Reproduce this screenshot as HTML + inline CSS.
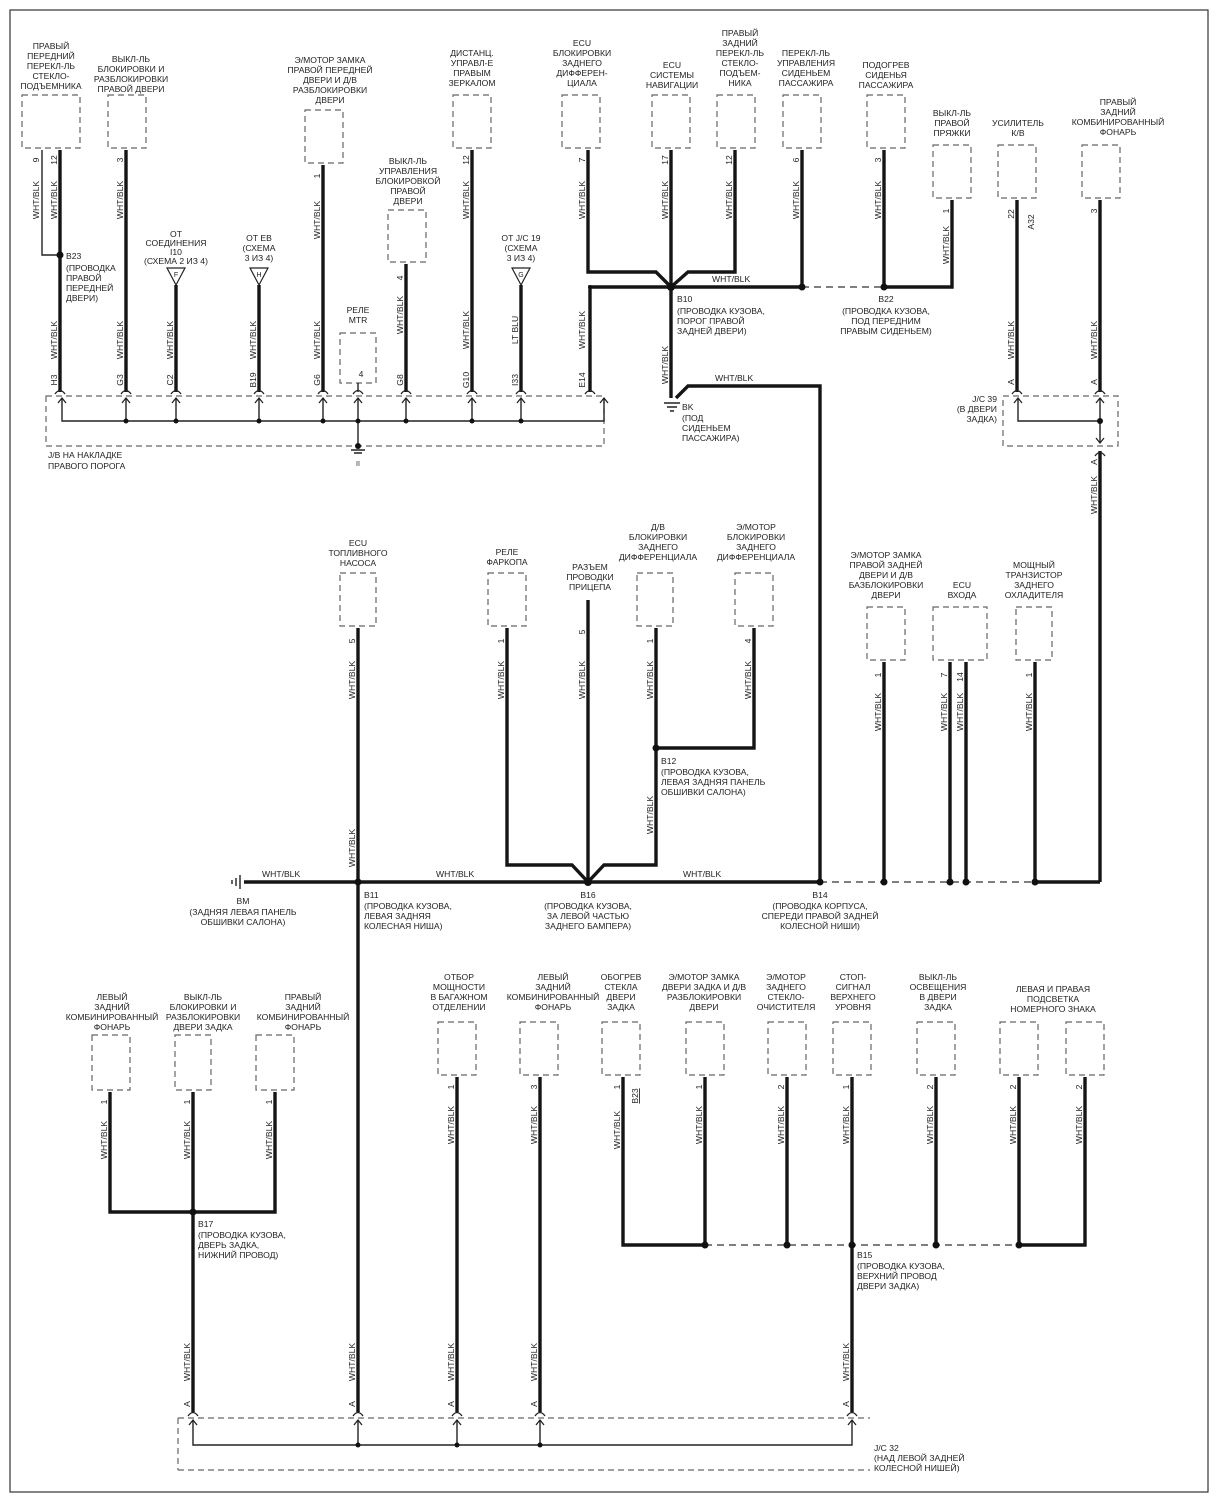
<!DOCTYPE html>
<html><head><meta charset="utf-8">
<style>
html,body{margin:0;padding:0;background:#fff;}
svg{display:block;}
text{font-family:"Liberation Sans",sans-serif;font-size:8.6px;fill:#222;}
.w{stroke:#151515;stroke-width:3.4;fill:none;}
.t{stroke:#222;stroke-width:1.4;fill:none;}
.d{stroke:#666;stroke-width:1.2;fill:none;stroke-dasharray:6,4;}
.dl{stroke:#555;stroke-width:1.4;fill:none;stroke-dasharray:7,5;}
.c{text-anchor:middle;}
.e{text-anchor:end;}
</style></head><body>
<svg width="1218" height="1500" viewBox="0 0 1218 1500" xmlns="http://www.w3.org/2000/svg">
<defs>
<g id="plug"><path d="M-5,6 Q0,-1 5,6" stroke="#222" stroke-width="1.3" fill="none"/></g>
<g id="arr"><path d="M-4,5 L0,0 L4,5" stroke="#222" stroke-width="1.3" fill="none"/></g>
</defs>
<rect x="10" y="10" width="1198" height="1482" fill="none" stroke="#333" stroke-width="1.2"/>

<!-- ===== TOP: component boxes ===== -->
<rect class="d" x="22" y="95" width="58" height="53"/>
<rect class="d" x="108" y="95" width="38" height="53"/>
<rect class="d" x="305" y="110" width="38" height="53"/>
<rect class="d" x="340" y="333" width="36" height="50"/>
<rect class="d" x="388" y="210" width="38" height="52"/>
<rect class="d" x="453" y="95" width="38" height="53"/>
<rect class="d" x="562" y="95" width="38" height="53"/>
<rect class="d" x="652" y="95" width="38" height="53"/>
<rect class="d" x="717" y="95" width="38" height="53"/>
<rect class="d" x="783" y="95" width="38" height="53"/>
<rect class="d" x="867" y="95" width="38" height="53"/>
<rect class="d" x="933" y="145" width="38" height="53"/>
<rect class="d" x="998" y="145" width="38" height="53"/>
<rect class="d" x="1082" y="145" width="38" height="53"/>

<!-- top labels -->
<text class="c" x="51" y="49">ПРАВЫЙ<tspan x="51" dy="10">ПЕРЕДНИЙ</tspan><tspan x="51" dy="10">ПЕРЕКЛ-ЛЬ</tspan><tspan x="51" dy="10">СТЕКЛО-</tspan><tspan x="51" dy="10">ПОДЪЕМНИКА</tspan></text>
<text class="c" x="131" y="62">ВЫКЛ-ЛЬ<tspan x="131" dy="10">БЛОКИРОВКИ И</tspan><tspan x="131" dy="10">РАЗБЛОКИРОВКИ</tspan><tspan x="131" dy="10">ПРАВОЙ ДВЕРИ</tspan></text>
<text class="c" x="330" y="63">Э/МОТОР ЗАМКА<tspan x="330" dy="10">ПРАВОЙ ПЕРЕДНЕЙ</tspan><tspan x="330" dy="10">ДВЕРИ И Д/В</tspan><tspan x="330" dy="10">РАЗБЛОКИРОВКИ</tspan><tspan x="330" dy="10">ДВЕРИ</tspan></text>
<text class="c" x="408" y="164">ВЫКЛ-ЛЬ<tspan x="408" dy="10">УПРАВЛЕНИЯ</tspan><tspan x="408" dy="10">БЛОКИРОВКОЙ</tspan><tspan x="408" dy="10">ПРАВОЙ</tspan><tspan x="408" dy="10">ДВЕРИ</tspan></text>
<text class="c" x="472" y="56">ДИСТАНЦ.<tspan x="472" dy="10">УПРАВЛ-Е</tspan><tspan x="472" dy="10">ПРАВЫМ</tspan><tspan x="472" dy="10">ЗЕРКАЛОМ</tspan></text>
<text class="c" x="582" y="46">ECU<tspan x="582" dy="10">БЛОКИРОВКИ</tspan><tspan x="582" dy="10">ЗАДНЕГО</tspan><tspan x="582" dy="10">ДИФФЕРЕН-</tspan><tspan x="582" dy="10">ЦИАЛА</tspan></text>
<text class="c" x="672" y="68">ECU<tspan x="672" dy="10">СИСТЕМЫ</tspan><tspan x="672" dy="10">НАВИГАЦИИ</tspan></text>
<text class="c" x="740" y="36">ПРАВЫЙ<tspan x="740" dy="10">ЗАДНИЙ</tspan><tspan x="740" dy="10">ПЕРЕКЛ-ЛЬ</tspan><tspan x="740" dy="10">СТЕКЛО-</tspan><tspan x="740" dy="10">ПОДЪЕМ-</tspan><tspan x="740" dy="10">НИКА</tspan></text>
<text class="c" x="806" y="56">ПЕРЕКЛ-ЛЬ<tspan x="806" dy="10">УПРАВЛЕНИЯ</tspan><tspan x="806" dy="10">СИДЕНЬЕМ</tspan><tspan x="806" dy="10">ПАССАЖИРА</tspan></text>
<text class="c" x="886" y="68">ПОДОГРЕВ<tspan x="886" dy="10">СИДЕНЬЯ</tspan><tspan x="886" dy="10">ПАССАЖИРА</tspan></text>
<text class="c" x="952" y="116">ВЫКЛ-ЛЬ<tspan x="952" dy="10">ПРАВОЙ</tspan><tspan x="952" dy="10">ПРЯЖКИ</tspan></text>
<text class="c" x="1018" y="126">УСИЛИТЕЛЬ<tspan x="1018" dy="10">К/В</tspan></text>
<text class="c" x="1118" y="105">ПРАВЫЙ<tspan x="1118" dy="10">ЗАДНИЙ</tspan><tspan x="1118" dy="10">КОМБИНИРОВАННЫЙ</tspan><tspan x="1118" dy="10">ФОНАРЬ</tspan></text>

<!-- triangles -->
<text class="c" x="176" y="237">ОТ<tspan x="176" dy="9">СОЕДИНЕНИЯ</tspan><tspan x="176" dy="9">I10</tspan><tspan x="176" dy="9">(СХЕМА 2 ИЗ 4)</tspan></text>
<path d="M167,268 L185,268 L176,285 Z" fill="#fff" stroke="#222" stroke-width="1.2"/><text class="c" x="176" y="277" style="font-size:7px">F</text>
<text class="c" x="259" y="241">ОТ EB<tspan x="259" dy="10">(СХЕМА</tspan><tspan x="259" dy="10">3 ИЗ 4)</tspan></text>
<path d="M250,268 L268,268 L259,285 Z" fill="#fff" stroke="#222" stroke-width="1.2"/><text class="c" x="259" y="277" style="font-size:7px">H</text>
<text class="c" x="521" y="241">ОТ J/C 19<tspan x="521" dy="10">(СХЕМА</tspan><tspan x="521" dy="10">3 ИЗ 4)</tspan></text>
<path d="M512,268 L530,268 L521,285 Z" fill="#fff" stroke="#222" stroke-width="1.2"/><text class="c" x="521" y="277" style="font-size:7px">G</text>
<text class="c" x="358" y="313">РЕЛЕ<tspan x="358" dy="10">MTR</tspan></text>

<!-- top wires -->
<path class="t" d="M42,150 V255 H60"/>
<path class="w" d="M60,150 V392"/>
<path class="w" d="M126,150 V392"/>
<path class="w" d="M176,285 V392"/>
<path class="w" d="M259,285 V392"/>
<path class="w" d="M323,165 V392"/>
<path class="t" d="M358,383 V392"/>
<path class="w" d="M406,264 V392"/>
<path class="w" d="M472,150 V392"/>
<path class="w" d="M521,285 V392"/>
<path class="w" d="M588,150 V272 H656 L671,287"/>
<path class="w" d="M671,150 V287"/>
<path class="w" d="M735,150 V272 H688 L671,287"/>
<path class="w" d="M671,287 H590 V392"/>
<path class="w" d="M671,287 H802"/>
<path class="dl" d="M802,287 H884"/>
<path class="w" d="M884,150 V287 H952 V200"/>
<path class="w" d="M802,150 V287"/>
<path class="w" d="M671,287 V398"/>
<path class="w" d="M676,398 L688,386 H820 V882"/>
<path class="w" d="M1017,200 V392"/>
<path class="w" d="M1100,200 V392"/>
<path class="w" d="M1100,451 V882"/>

<circle cx="60" cy="255" r="3.5" fill="#111"/>
<circle cx="671" cy="287" r="4" fill="#111"/>
<circle cx="802" cy="287" r="3.5" fill="#111"/>
<circle cx="884" cy="287" r="3.5" fill="#111"/>

<!-- ground BK -->
<path class="t" d="M664,403 H680 M667,407 H677 M670,411 H674"/>
<text x="682" y="410">BK<tspan x="682" dy="11">(ПОД</tspan><tspan x="682" dy="10">СИДЕНЬЕМ</tspan><tspan x="682" dy="10">ПАССАЖИРА)</tspan></text>
<text x="715" y="381">WHT/BLK</text>
<text x="712" y="282">WHT/BLK</text>

<!-- junction labels top -->
<text x="66" y="259">B23<tspan x="66" dy="12">(ПРОВОДКА</tspan><tspan x="66" dy="10">ПРАВОЙ</tspan><tspan x="66" dy="10">ПЕРЕДНЕЙ</tspan><tspan x="66" dy="10">ДВЕРИ)</tspan></text>
<text x="677" y="302">B10<tspan x="677" dy="12">(ПРОВОДКА КУЗОВА,</tspan><tspan x="677" dy="10">ПОРОГ ПРАВОЙ</tspan><tspan x="677" dy="10">ЗАДНЕЙ ДВЕРИ)</tspan></text>
<text class="c" x="886" y="302">B22<tspan x="886" dy="12">(ПРОВОДКА КУЗОВА,</tspan><tspan x="886" dy="10">ПОД ПЕРЕДНИМ</tspan><tspan x="886" dy="10">ПРАВЫМ СИДЕНЬЕМ)</tspan></text>

<!-- rotated wire labels top -->
<g>
<text class="c" transform="translate(39,200) rotate(-90)">WHT/BLK</text>
<text class="c" transform="translate(57,200) rotate(-90)">WHT/BLK</text>
<text class="c" transform="translate(123,200) rotate(-90)">WHT/BLK</text>
<text class="c" transform="translate(57,340) rotate(-90)">WHT/BLK</text>
<text class="c" transform="translate(123,340) rotate(-90)">WHT/BLK</text>
<text class="c" transform="translate(173,340) rotate(-90)">WHT/BLK</text>
<text class="c" transform="translate(256,340) rotate(-90)">WHT/BLK</text>
<text class="c" transform="translate(320,340) rotate(-90)">WHT/BLK</text>
<text class="c" transform="translate(320,220) rotate(-90)">WHT/BLK</text>
<text class="c" transform="translate(403,315) rotate(-90)">WHT/BLK</text>
<text class="c" transform="translate(469,200) rotate(-90)">WHT/BLK</text>
<text class="c" transform="translate(469,330) rotate(-90)">WHT/BLK</text>
<text class="c" transform="translate(518,330) rotate(-90)">LT BLU</text>
<text class="c" transform="translate(585,200) rotate(-90)">WHT/BLK</text>
<text class="c" transform="translate(585,330) rotate(-90)">WHT/BLK</text>
<text class="c" transform="translate(668,200) rotate(-90)">WHT/BLK</text>
<text class="c" transform="translate(668,365) rotate(-90)">WHT/BLK</text>
<text class="c" transform="translate(732,200) rotate(-90)">WHT/BLK</text>
<text class="c" transform="translate(799,200) rotate(-90)">WHT/BLK</text>
<text class="c" transform="translate(881,200) rotate(-90)">WHT/BLK</text>
<text class="c" transform="translate(949,245) rotate(-90)">WHT/BLK</text>
<text class="c" transform="translate(1014,340) rotate(-90)">WHT/BLK</text>
<text class="c" transform="translate(1097,340) rotate(-90)">WHT/BLK</text>
<text class="c" transform="translate(1097,495) rotate(-90)">WHT/BLK</text>
<!-- pins -->
<text class="c" transform="translate(39,160) rotate(-90)">9</text>
<text class="c" transform="translate(57,160) rotate(-90)">12</text>
<text class="c" transform="translate(123,160) rotate(-90)">3</text>
<text class="c" transform="translate(320,176) rotate(-90)">1</text>
<text class="c" transform="translate(403,278) rotate(-90)">4</text>
<text class="c" transform="translate(469,160) rotate(-90)">12</text>
<text class="c" transform="translate(585,160) rotate(-90)">7</text>
<text class="c" transform="translate(668,160) rotate(-90)">17</text>
<text class="c" transform="translate(732,160) rotate(-90)">12</text>
<text class="c" transform="translate(799,160) rotate(-90)">6</text>
<text class="c" transform="translate(881,160) rotate(-90)">3</text>
<text class="c" transform="translate(949,211) rotate(-90)">1</text>
<text class="c" transform="translate(1014,214) rotate(-90)">22</text>
<text class="c" transform="translate(1034,222) rotate(-90)">A32</text>
<text class="c" transform="translate(1097,211) rotate(-90)">3</text>
<text class="c" transform="translate(57,380) rotate(-90)">H3</text>
<text class="c" transform="translate(123,380) rotate(-90)">G3</text>
<text class="c" transform="translate(173,380) rotate(-90)">C2</text>
<text class="c" transform="translate(256,380) rotate(-90)">B19</text>
<text class="c" transform="translate(320,380) rotate(-90)">G6</text>
<text class="c" x="361" y="377">4</text>
<text class="c" transform="translate(403,380) rotate(-90)">G8</text>
<text class="c" transform="translate(469,380) rotate(-90)">G10</text>
<text class="c" transform="translate(518,380) rotate(-90)">I33</text>
<text class="c" transform="translate(585,380) rotate(-90)">E14</text>
<text class="c" transform="translate(1014,382) rotate(-90)">A</text>
<text class="c" transform="translate(1097,382) rotate(-90)">A</text>
<text class="c" transform="translate(1097,462) rotate(-90)">A</text>
</g>

<!-- J/B box -->
<rect class="d" x="46" y="396" width="558" height="50"/>
<path class="t" d="M62,398 V421 H604 V398"/>
<path class="t" d="M126,398 V421 M176,398 V421 M259,398 V421 M323,398 V421 M358,398 V446 M406,398 V421 M472,398 V421 M521,398 V421"/>
<g>
<use href="#plug" x="60" y="388"/><use href="#arr" x="62" y="398"/>
<use href="#plug" x="126" y="388"/><use href="#arr" x="126" y="398"/>
<use href="#plug" x="176" y="388"/><use href="#arr" x="176" y="398"/>
<use href="#plug" x="259" y="388"/><use href="#arr" x="259" y="398"/>
<use href="#plug" x="323" y="388"/><use href="#arr" x="323" y="398"/>
<use href="#plug" x="358" y="388"/><use href="#arr" x="358" y="398"/>
<use href="#plug" x="406" y="388"/><use href="#arr" x="406" y="398"/>
<use href="#plug" x="472" y="388"/><use href="#arr" x="472" y="398"/>
<use href="#plug" x="521" y="388"/><use href="#arr" x="521" y="398"/>
<use href="#plug" x="590" y="388"/><use href="#arr" x="604" y="398"/>
</g>
<g fill="#111"><circle cx="126" cy="421" r="2.5"/><circle cx="176" cy="421" r="2.5"/><circle cx="259" cy="421" r="2.5"/><circle cx="323" cy="421" r="2.5"/><circle cx="358" cy="421" r="2.5"/><circle cx="406" cy="421" r="2.5"/><circle cx="472" cy="421" r="2.5"/><circle cx="521" cy="421" r="2.5"/><circle cx="358" cy="446" r="3"/></g>
<path class="t" d="M351,450 H365 M354,453 H362"/>
<text class="c" x="358" y="466" style="font-size:7px">II</text>
<text x="48" y="458">J/B НА НАКЛАДКЕ<tspan x="48" dy="11">ПРАВОГО ПОРОГА</tspan></text>

<!-- J/C 39 -->
<rect class="d" x="1003" y="396" width="115" height="50"/>
<path class="t" d="M1018,398 V421 H1100"/>
<path class="t" d="M1100,398 V443"/>
<circle cx="1100" cy="421" r="3" fill="#111"/>
<use href="#plug" x="1017" y="388"/><use href="#arr" x="1018" y="398"/>
<use href="#plug" x="1100" y="388"/><use href="#arr" x="1100" y="398"/>
<path d="M1096,438 L1100,443 L1104,438" stroke="#222" stroke-width="1.3" fill="none"/>
<path d="M1095,456 Q1100,449 1105,456" stroke="#222" stroke-width="1.3" fill="none"/>
<text class="e" x="997" y="402">J/C 39<tspan x="997" dy="10">(В ДВЕРИ</tspan><tspan x="997" dy="10">ЗАДКА)</tspan></text>

<!-- ===== MIDDLE ===== -->
<rect class="d" x="340" y="573" width="36" height="53"/>
<rect class="d" x="488" y="573" width="38" height="53"/>
<rect class="d" x="637" y="573" width="36" height="53"/>
<rect class="d" x="735" y="573" width="38" height="53"/>
<rect class="d" x="867" y="607" width="38" height="53"/>
<rect class="d" x="933" y="607" width="54" height="53"/>
<rect class="d" x="1016" y="607" width="36" height="53"/>

<text class="c" x="358" y="546">ECU<tspan x="358" dy="10">ТОПЛИВНОГО</tspan><tspan x="358" dy="10">НАСОСА</tspan></text>
<text class="c" x="507" y="555">РЕЛЕ<tspan x="507" dy="10">ФАРКОПА</tspan></text>
<text class="c" x="590" y="570">РАЗЪЕМ<tspan x="590" dy="10">ПРОВОДКИ</tspan><tspan x="590" dy="10">ПРИЦЕПА</tspan></text>
<text class="c" x="658" y="530">Д/В<tspan x="658" dy="10">БЛОКИРОВКИ</tspan><tspan x="658" dy="10">ЗАДНЕГО</tspan><tspan x="658" dy="10">ДИФФЕРЕНЦИАЛА</tspan></text>
<text class="c" x="756" y="530">Э/МОТОР<tspan x="756" dy="10">БЛОКИРОВКИ</tspan><tspan x="756" dy="10">ЗАДНЕГО</tspan><tspan x="756" dy="10">ДИФФЕРЕНЦИАЛА</tspan></text>
<text class="c" x="886" y="558">Э/МОТОР ЗАМКА<tspan x="886" dy="10">ПРАВОЙ ЗАДНЕЙ</tspan><tspan x="886" dy="10">ДВЕРИ И Д/В</tspan><tspan x="886" dy="10">БАЗБЛОКИРОВКИ</tspan><tspan x="886" dy="10">ДВЕРИ</tspan></text>
<text class="c" x="962" y="588">ECU<tspan x="962" dy="10">ВХОДА</tspan></text>
<text class="c" x="1034" y="568">МОЩНЫЙ<tspan x="1034" dy="10">ТРАНЗИСТОР</tspan><tspan x="1034" dy="10">ЗАДНЕГО</tspan><tspan x="1034" dy="10">ОХЛАДИТЕЛЯ</tspan></text>

<path class="w" d="M358,628 V1412"/>
<path class="w" d="M507,628 V865 H572 L588,882"/>
<path class="w" d="M588,600 V882"/>
<path class="w" d="M656,628 V865 H604 L588,882"/>
<path class="w" d="M754,628 V748 H656"/>
<path class="w" d="M244,882 H820"/>
<path class="dl" d="M820,882 H1035"/>
<path class="w" d="M1035,882 H1100"/>
<path class="w" d="M884,662 V882"/>
<path class="w" d="M950,662 V882"/>
<path class="w" d="M966,662 V882"/>
<path class="w" d="M1035,662 V882"/>
<g fill="#111"><circle cx="358" cy="882" r="3.5"/><circle cx="588" cy="882" r="4"/><circle cx="656" cy="748" r="3.5"/><circle cx="820" cy="882" r="3.5"/><circle cx="884" cy="882" r="3.5"/><circle cx="950" cy="882" r="3.5"/><circle cx="966" cy="882" r="3.5"/><circle cx="1035" cy="882" r="3.5"/><circle cx="590" cy="287" r="2"/></g>
<path class="t" d="M240,875 V889 M236,878 V886 M232,880 V884"/>
<text x="262" y="877">WHT/BLK</text>
<text x="436" y="877">WHT/BLK</text>
<text x="683" y="877">WHT/BLK</text>
<text class="c" x="243" y="904">BM<tspan x="243" dy="11">(ЗАДНЯЯ ЛЕВАЯ ПАНЕЛЬ</tspan><tspan x="243" dy="10">ОБШИВКИ САЛОНА)</tspan></text>
<text x="364" y="898">B11<tspan x="364" dy="11">(ПРОВОДКА КУЗОВА,</tspan><tspan x="364" dy="10">ЛЕВАЯ ЗАДНЯЯ</tspan><tspan x="364" dy="10">КОЛЕСНАЯ НИША)</tspan></text>
<text class="c" x="588" y="898">B16<tspan x="588" dy="11">(ПРОВОДКА КУЗОВА,</tspan><tspan x="588" dy="10">ЗА ЛЕВОЙ ЧАСТЬЮ</tspan><tspan x="588" dy="10">ЗАДНЕГО БАМПЕРА)</tspan></text>
<text class="c" x="820" y="898">B14<tspan x="820" dy="11">(ПРОВОДКА КОРПУСА,</tspan><tspan x="820" dy="10">СПЕРЕДИ ПРАВОЙ ЗАДНЕЙ</tspan><tspan x="820" dy="10">КОЛЕСНОЙ НИШИ)</tspan></text>
<text x="661" y="764">B12<tspan x="661" dy="11">(ПРОВОДКА КУЗОВА,</tspan><tspan x="661" dy="10">ЛЕВАЯ ЗАДНЯЯ ПАНЕЛЬ</tspan><tspan x="661" dy="10">ОБШИВКИ САЛОНА)</tspan></text>
<g>
<text class="c" transform="translate(355,680) rotate(-90)">WHT/BLK</text>
<text class="c" transform="translate(355,848) rotate(-90)">WHT/BLK</text>
<text class="c" transform="translate(504,680) rotate(-90)">WHT/BLK</text>
<text class="c" transform="translate(585,680) rotate(-90)">WHT/BLK</text>
<text class="c" transform="translate(653,680) rotate(-90)">WHT/BLK</text>
<text class="c" transform="translate(653,815) rotate(-90)">WHT/BLK</text>
<text class="c" transform="translate(751,680) rotate(-90)">WHT/BLK</text>
<text class="c" transform="translate(881,712) rotate(-90)">WHT/BLK</text>
<text class="c" transform="translate(947,712) rotate(-90)">WHT/BLK</text>
<text class="c" transform="translate(963,712) rotate(-90)">WHT/BLK</text>
<text class="c" transform="translate(1032,712) rotate(-90)">WHT/BLK</text>
<text class="c" transform="translate(355,641) rotate(-90)">5</text>
<text class="c" transform="translate(504,641) rotate(-90)">1</text>
<text class="c" transform="translate(585,632) rotate(-90)">5</text>
<text class="c" transform="translate(653,641) rotate(-90)">1</text>
<text class="c" transform="translate(751,641) rotate(-90)">4</text>
<text class="c" transform="translate(881,675) rotate(-90)">1</text>
<text class="c" transform="translate(947,675) rotate(-90)">7</text>
<text class="c" transform="translate(963,677) rotate(-90)">14</text>
<text class="c" transform="translate(1032,675) rotate(-90)">1</text>
</g>

<!-- ===== BOTTOM ===== -->
<rect class="d" x="92" y="1035" width="38" height="55"/>
<rect class="d" x="175" y="1035" width="36" height="55"/>
<rect class="d" x="256" y="1035" width="38" height="55"/>
<rect class="d" x="438" y="1022" width="38" height="53"/>
<rect class="d" x="520" y="1022" width="38" height="53"/>
<rect class="d" x="602" y="1022" width="38" height="53"/>
<rect class="d" x="686" y="1022" width="38" height="53"/>
<rect class="d" x="768" y="1022" width="38" height="53"/>
<rect class="d" x="833" y="1022" width="38" height="53"/>
<rect class="d" x="917" y="1022" width="38" height="53"/>
<rect class="d" x="1000" y="1022" width="38" height="53"/>
<rect class="d" x="1066" y="1022" width="38" height="53"/>

<text class="c" x="112" y="1000">ЛЕВЫЙ<tspan x="112" dy="10">ЗАДНИЙ</tspan><tspan x="112" dy="10">КОМБИНИРОВАННЫЙ</tspan><tspan x="112" dy="10">ФОНАРЬ</tspan></text>
<text class="c" x="203" y="1000">ВЫКЛ-ЛЬ<tspan x="203" dy="10">БЛОКИРОВКИ И</tspan><tspan x="203" dy="10">РАЗБЛОКИРОВКИ</tspan><tspan x="203" dy="10">ДВЕРИ ЗАДКА</tspan></text>
<text class="c" x="303" y="1000">ПРАВЫЙ<tspan x="303" dy="10">ЗАДНИЙ</tspan><tspan x="303" dy="10">КОМБИНИРОВАННЫЙ</tspan><tspan x="303" dy="10">ФОНАРЬ</tspan></text>
<text class="c" x="459" y="980">ОТБОР<tspan x="459" dy="10">МОЩНОСТИ</tspan><tspan x="459" dy="10">В БАГАЖНОМ</tspan><tspan x="459" dy="10">ОТДЕЛЕНИИ</tspan></text>
<text class="c" x="553" y="980">ЛЕВЫЙ<tspan x="553" dy="10">ЗАДНИЙ</tspan><tspan x="553" dy="10">КОМБИНИРОВАННЫЙ</tspan><tspan x="553" dy="10">ФОНАРЬ</tspan></text>
<text class="c" x="621" y="980">ОБОГРЕВ<tspan x="621" dy="10">СТЕКЛА</tspan><tspan x="621" dy="10">ДВЕРИ</tspan><tspan x="621" dy="10">ЗАДКА</tspan></text>
<text class="c" x="704" y="980">Э/МОТОР ЗАМКА<tspan x="704" dy="10">ДВЕРИ ЗАДКА И Д/В</tspan><tspan x="704" dy="10">РАЗБЛОКИРОВКИ</tspan><tspan x="704" dy="10">ДВЕРИ</tspan></text>
<text class="c" x="786" y="980">Э/МОТОР<tspan x="786" dy="10">ЗАДНЕГО</tspan><tspan x="786" dy="10">СТЕКЛО-</tspan><tspan x="786" dy="10">ОЧИСТИТЕЛЯ</tspan></text>
<text class="c" x="853" y="980">СТОП-<tspan x="853" dy="10">СИГНАЛ</tspan><tspan x="853" dy="10">ВЕРХНЕГО</tspan><tspan x="853" dy="10">УРОВНЯ</tspan></text>
<text class="c" x="938" y="980">ВЫКЛ-ЛЬ<tspan x="938" dy="10">ОСВЕЩЕНИЯ</tspan><tspan x="938" dy="10">В ДВЕРИ</tspan><tspan x="938" dy="10">ЗАДКА</tspan></text>
<text class="c" x="1053" y="992">ЛЕВАЯ И ПРАВАЯ<tspan x="1053" dy="10">ПОДСВЕТКА</tspan><tspan x="1053" dy="10">НОМЕРНОГО ЗНАКА</tspan></text>

<path class="w" d="M110,1092 V1212 H275 V1092"/>
<path class="w" d="M193,1092 V1412"/>
<path class="w" d="M457,1077 V1412"/>
<path class="w" d="M540,1077 V1412"/>
<path class="w" d="M623,1077 V1245 H705"/>
<path class="w" d="M705,1077 V1245"/>
<path class="w" d="M787,1077 V1245"/>
<path class="w" d="M852,1077 V1412"/>
<path class="w" d="M936,1077 V1245"/>
<path class="w" d="M1019,1077 V1245 H1085 V1077"/>
<path class="dl" d="M705,1245 H1019"/>
<g fill="#111"><circle cx="193" cy="1212" r="3.5"/><circle cx="705" cy="1245" r="3.5"/><circle cx="787" cy="1245" r="3.5"/><circle cx="852" cy="1245" r="3.5"/><circle cx="936" cy="1245" r="3.5"/><circle cx="1019" cy="1245" r="3.5"/></g>
<text x="198" y="1227">B17<tspan x="198" dy="11">(ПРОВОДКА КУЗОВА,</tspan><tspan x="198" dy="10">ДВЕРЬ ЗАДКА,</tspan><tspan x="198" dy="10">НИЖНИЙ ПРОВОД)</tspan></text>
<text x="857" y="1258">B15<tspan x="857" dy="11">(ПРОВОДКА КУЗОВА,</tspan><tspan x="857" dy="10">ВЕРХНИЙ ПРОВОД</tspan><tspan x="857" dy="10">ДВЕРИ ЗАДКА)</tspan></text>
<g>
<text class="c" transform="translate(107,1140) rotate(-90)">WHT/BLK</text>
<text class="c" transform="translate(190,1140) rotate(-90)">WHT/BLK</text>
<text class="c" transform="translate(272,1140) rotate(-90)">WHT/BLK</text>
<text class="c" transform="translate(454,1125) rotate(-90)">WHT/BLK</text>
<text class="c" transform="translate(537,1125) rotate(-90)">WHT/BLK</text>
<text class="c" transform="translate(620,1130) rotate(-90)">WHT/BLK</text>
<text class="c" transform="translate(702,1125) rotate(-90)">WHT/BLK</text>
<text class="c" transform="translate(784,1125) rotate(-90)">WHT/BLK</text>
<text class="c" transform="translate(849,1125) rotate(-90)">WHT/BLK</text>
<text class="c" transform="translate(933,1125) rotate(-90)">WHT/BLK</text>
<text class="c" transform="translate(1016,1125) rotate(-90)">WHT/BLK</text>
<text class="c" transform="translate(1082,1125) rotate(-90)">WHT/BLK</text>
<text class="c" transform="translate(190,1362) rotate(-90)">WHT/BLK</text>
<text class="c" transform="translate(355,1362) rotate(-90)">WHT/BLK</text>
<text class="c" transform="translate(454,1362) rotate(-90)">WHT/BLK</text>
<text class="c" transform="translate(537,1362) rotate(-90)">WHT/BLK</text>
<text class="c" transform="translate(849,1362) rotate(-90)">WHT/BLK</text>
<text class="c" transform="translate(107,1102) rotate(-90)">1</text>
<text class="c" transform="translate(190,1102) rotate(-90)">1</text>
<text class="c" transform="translate(272,1102) rotate(-90)">1</text>
<text class="c" transform="translate(454,1087) rotate(-90)">1</text>
<text class="c" transform="translate(537,1087) rotate(-90)">3</text>
<text class="c" transform="translate(620,1087) rotate(-90)">1</text>
<text class="c" transform="translate(638,1096) rotate(-90)" style="text-decoration:underline">B23</text>
<text class="c" transform="translate(702,1087) rotate(-90)">1</text>
<text class="c" transform="translate(784,1087) rotate(-90)">2</text>
<text class="c" transform="translate(849,1087) rotate(-90)">1</text>
<text class="c" transform="translate(933,1087) rotate(-90)">2</text>
<text class="c" transform="translate(1016,1087) rotate(-90)">2</text>
<text class="c" transform="translate(1082,1087) rotate(-90)">2</text>
<text class="c" transform="translate(190,1404) rotate(-90)">A</text>
<text class="c" transform="translate(355,1404) rotate(-90)">A</text>
<text class="c" transform="translate(454,1404) rotate(-90)">A</text>
<text class="c" transform="translate(537,1404) rotate(-90)">A</text>
<text class="c" transform="translate(849,1404) rotate(-90)">A</text>
</g>

<!-- J/C 32 -->
<path class="d" d="M178,1418 H870 M178,1470 H870 M178,1418 V1470"/>
<path class="t" d="M193,1420 V1445 H852 V1420 M358,1420 V1445 M457,1420 V1445 M540,1420 V1445"/>
<g fill="#111"><circle cx="358" cy="1445" r="2.5"/><circle cx="457" cy="1445" r="2.5"/><circle cx="540" cy="1445" r="2.5"/></g>
<use href="#plug" x="193" y="1410"/><use href="#arr" x="193" y="1420"/>
<use href="#plug" x="358" y="1410"/><use href="#arr" x="358" y="1420"/>
<use href="#plug" x="457" y="1410"/><use href="#arr" x="457" y="1420"/>
<use href="#plug" x="540" y="1410"/><use href="#arr" x="540" y="1420"/>
<use href="#plug" x="852" y="1410"/><use href="#arr" x="852" y="1420"/>
<text x="874" y="1451">J/C 32<tspan x="874" dy="10">(НАД ЛЕВОЙ ЗАДНЕЙ</tspan><tspan x="874" dy="10">КОЛЕСНОЙ НИШЕЙ)</tspan></text>
</svg>
</body></html>
